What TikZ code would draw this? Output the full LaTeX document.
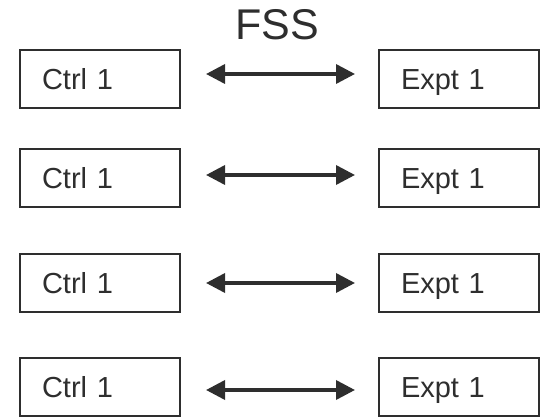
\documentclass[tikz,border=0pt]{standalone}
\usepackage{fontspec}
\setmainfont{Liberation Sans}
\usepackage{tikz}
\usetikzlibrary{arrows.meta, positioning}
\definecolor{ink}{HTML}{2E2E2E}

\begin{document}
\begin{tikzpicture}[x=1pt, y=-1pt,
  group/.style={draw=ink, line width=2pt, text=ink, minimum width=160pt, minimum height=58pt,
                text width=116pt, inner xsep=22pt, align=left, text height=21pt, text depth=0pt,
                font=\fontsize{29}{29}\selectfont},
  pair/.style={{Triangle[length=19pt, width=19pt]}-{Triangle[length=19pt, width=19pt]}, line width=3.5pt, draw=ink},
  node distance=197pt
]
\useasboundingbox (0,0) rectangle (544,419);

\node[text=ink, anchor=base, font=\fontsize{43}{43}\selectfont] (title) at (277,40) {FSS};

\node[group] (c1) at (100,79) {Ctrl 1};
\node[group, right=of c1] (e1) {Expt 1};
\node[group] (c2) at (100,178.5) {Ctrl 1};
\node[group, right=of c2] (e2) {Expt 1};
\node[group] (c3) at (100,283) {Ctrl 1};
\node[group, right=of c3] (e3) {Expt 1};
\node[group] (c4) at (100,387) {Ctrl 1};
\node[group, right=of c4] (e4) {Expt 1};

\draw[pair] ([xshift=25pt, yshift=5pt]c1.east) -- ([xshift=-23pt, yshift=5pt]e1.west);
\draw[pair] ([xshift=25pt, yshift=3.5pt]c2.east) -- ([xshift=-23pt, yshift=3.5pt]e2.west);
\draw[pair] ([xshift=25pt]c3.east) -- ([xshift=-23pt]e3.west);
\draw[pair] ([xshift=25pt, yshift=-3pt]c4.east) -- ([xshift=-23pt, yshift=-3pt]e4.west);
\end{tikzpicture}
\end{document}
